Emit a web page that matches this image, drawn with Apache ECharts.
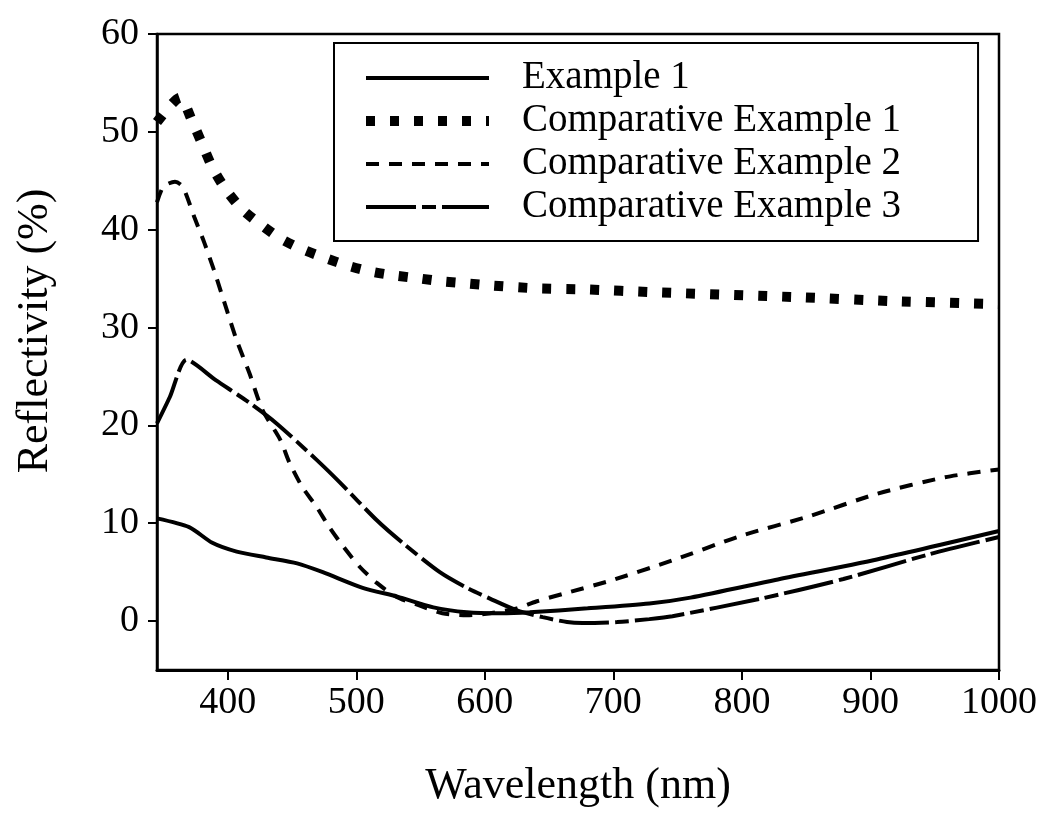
<!DOCTYPE html>
<html>
<head>
<meta charset="utf-8">
<script src="https://cdn.jsdelivr.net/npm/echarts@6/dist/echarts.min.js"></script>
<style>
  html, body { margin: 0; padding: 0; background: #fff; }
  #chart { width: 1037px; height: 827px; }
</style>
</head>
<body>
<div id="chart"></div>
<script>
// wavelength ticks and reflectivity ticks
const xTicks = [400, 500, 600, 700, 800, 900, 1000];
const yTicks = [0, 10, 20, 30, 40, 50, 60];

// Example 1
const ex1Nm = [345, 370, 388, 407, 430, 454, 474, 505, 532, 560, 586, 612, 635, 680, 728, 760, 826, 905, 1000];
const ex1R = [10.5, 9.6, 8.0, 7.1, 6.5, 5.9, 5.0, 3.4, 2.5, 1.4, 0.9, 0.8, 0.9, 1.3, 1.8, 2.4, 4.2, 6.3, 9.2];

// Comparative Example 1
const cmp1Nm = [345, 363, 372, 380, 388, 398, 411, 426, 441, 458, 476, 494, 512, 531, 550, 568, 587, 605, 641, 678, 733, 844, 918, 1000];
const cmp1R = [51.0, 53.5, 51.2, 48.8, 46.4, 44.2, 42.1, 40.5, 39.1, 38.0, 37.1, 36.3, 35.7, 35.3, 35.0, 34.7, 34.5, 34.3, 34.0, 33.9, 33.6, 33.1, 32.7, 32.4];

// Comparative Example 2
const cmp2Nm = [345, 350, 359, 365, 374, 382, 390, 400, 407, 417, 427, 441, 448, 458, 469, 479, 490, 503, 516, 531, 549, 567, 586, 604, 625, 640, 664, 697, 746, 799, 852, 905, 958, 1000];
const cmp2R = [42.8, 44.4, 44.9, 44.4, 41.3, 38.6, 35.6, 31.5, 28.7, 25.3, 21.6, 18.5, 16.2, 13.7, 11.7, 9.6, 7.6, 5.5, 3.9, 2.5, 1.6, 0.8, 0.6, 0.8, 1.3, 2.0, 2.9, 4.1, 6.2, 8.7, 10.7, 13.0, 14.7, 15.5];

// Comparative Example 3
const cmp3Nm = [345, 355, 368, 391, 417, 438, 469, 487, 516, 536, 565, 586, 604, 625, 645, 664, 676, 703, 728, 746, 815, 879, 945, 1000];
const cmp3R = [20.2, 22.9, 26.7, 24.6, 22.3, 20.2, 16.5, 14.2, 10.3, 8.0, 5.0, 3.4, 2.3, 1.1, 0.4, -0.1, -0.2, -0.1, 0.2, 0.5, 2.3, 4.3, 6.8, 8.6];

const names = ['Example 1', 'Comparative Example 1', 'Comparative Example 2', 'Comparative Example 3'];

const pairs = (xs, ys) => xs.map((x, i) => [x, ys[i]]);

const font = '"Liberation Serif", "DejaVu Serif", serif';

const chart = echarts.init(document.getElementById('chart'));

const lineSeries = (name, data, lineStyle) => ({
  name,
  type: 'line',
  data,
  symbol: 'none',
  smooth: 0.25,
  animation: false,
  lineStyle: Object.assign({ color: '#000', width: 4, cap: 'butt' }, lineStyle),
  itemStyle: { color: '#000' },
});

chart.setOption({
  backgroundColor: '#fff',
  animation: false,
  grid: {
    left: 157, right: 38, top: 34, bottom: 157,
    outerBoundsMode: 'none',
    show: true, borderColor: '#000', borderWidth: 2.5,
  },
  legend: {
    orient: 'vertical',
    left: 334,
    top: 43,
    padding: [15, 77, 14, 27],
    itemWidth: 123,
    itemHeight: 20,
    itemGap: 3,
    borderColor: '#000',
    borderWidth: 2,
    backgroundColor: '#fff',
    data: names,
    itemStyle: { opacity: 0 },
    lineStyle: { width: 'inherit' },
    textStyle: { fontFamily: font, fontSize: 39, lineHeight: 40, color: '#000', padding: [0, 0, 0, 28] },
  },
  xAxis: {
    type: 'value',
    min: 345,
    max: 1000,
    name: 'Wavelength (nm)',
    nameLocation: 'middle',
    nameGap: 94,
    nameTextStyle: { fontFamily: font, fontSize: 44, color: '#000' },
    axisLine: { onZero: false, lineStyle: { color: '#000', width: 3 } },
    axisTick: { customValues: xTicks, length: 10, lineStyle: { color: '#000', width: 2 } },
    axisLabel: { customValues: xTicks, formatter: v => String(v), margin: 14, fontFamily: font, fontSize: 38, color: '#000' },
    splitLine: { show: false },
  },
  yAxis: {
    type: 'value',
    min: -5,
    max: 60,
    name: 'Reflectivity (%)',
    nameLocation: 'middle',
    nameGap: 100,
    nameTextStyle: { fontFamily: font, fontSize: 44, color: '#000', padding: [0, 0, 0, 42] },
    axisLine: { onZero: false, lineStyle: { color: '#000', width: 2.5 } },
    axisTick: { customValues: yTicks, length: 9, lineStyle: { color: '#000', width: 2 } },
    axisLabel: { customValues: yTicks, formatter: v => String(v), margin: 18, fontFamily: font, fontSize: 38, color: '#000' },
    splitLine: { show: false },
  },
  series: [
    lineSeries(names[0], pairs(ex1Nm, ex1R), { type: 'solid' }),
    lineSeries(names[1], pairs(cmp1Nm, cmp1R), { type: [9, 15], width: 10 }),
    lineSeries(names[2], pairs(cmp2Nm, cmp2R), { type: [13, 10] }),
    lineSeries(names[3], pairs(cmp3Nm, cmp3R), { type: [50, 6, 14, 6] }),
  ],
});
</script>
</body>
</html>
